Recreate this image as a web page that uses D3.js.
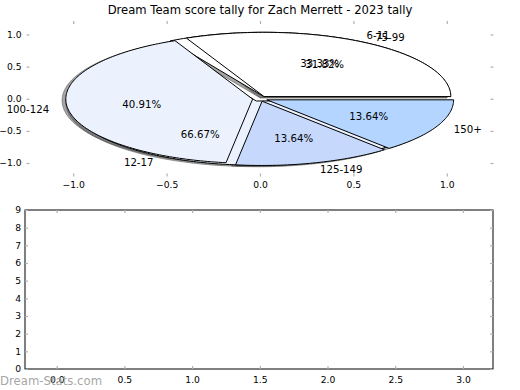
<!DOCTYPE html>
<html>
<head>
<meta charset="utf-8">
<script src="https://cdn.jsdelivr.net/npm/d3@7"></script>
<style>
  body { margin: 0; background: #fff; }
  text { font-family: "DejaVu Sans", sans-serif; fill: #000; }
</style>
</head>
<body>
<svg id="chart" width="520" height="390"></svg>
<script>
// score ranges (front pie) and goal ranges (back pie)
const scoreLabels = ["75-99", "100-124", "125-149", "150+"];
const scoreCounts = [7, 9, 3, 3];
const scoreColors = ["#ffffff", "#ebf2fe", "#c6d9fd", "#b3d5ff"];

const goalLabels = ["6-11", "12-17"];
const goalCounts = [1, 2];
const goalColors = ["#ffffff", "#ebf2fe"];

const pieTicks = [-1.0, -0.5, 0.0, 0.5, 1.0];
const lowerXTicks = [0.0, 0.5, 1.0, 1.5, 2.0, 2.5, 3.0];
const lowerYTicks = [0, 1, 2, 3, 4, 5, 6, 7, 8, 9];

const title = "Dream Team score tally for Zach Merrett - 2023 tally";
const explode = 0.04;

const svg = d3.select("#chart");

// top axes (pie) - aspect not equal so the pie is squashed
let x = d3.scaleLinear().domain([-1.25, 1.25]).range([26.5, 493.5]);
let y = d3.scaleLinear().domain([-1.21, 1.21]).range([176.5, 21]);

// bottom axes (empty)
let x2 = d3.scaleLinear().domain([-0.234, 3.222]).range([25, 493]);
let y2 = d3.scaleLinear().domain([0, 9]).range([369, 210]);

const tickColor = "#b0b0b0";
const fmt1 = d => d3.format(".1f")(d).replace("-", "\u2212");

function ticks(g, scale, orient, vals, labels, pad) {
  let ax = orient(scale).tickValues(vals).tickSizeInner(-3).tickSizeOuter(0)
    .tickPadding(pad).tickFormat(labels ? labels : "");
  g.call(ax);
  g.select(".domain").remove();
  g.selectAll(".tick line").attr("stroke", tickColor).attr("stroke-width", 1.2);
  g.selectAll(".tick text").attr("font-size", "9.2px").attr("fill", "#000")
    .attr("font-family", "DejaVu Sans, sans-serif");
}

// ---- top axes ticks
ticks(svg.append("g").attr("transform", "translate(0," + y.range()[0] + ")"), x, d3.axisBottom, pieTicks, fmt1, 5);
ticks(svg.append("g").attr("transform", "translate(0," + y.range()[1] + ")"), x, d3.axisTop, pieTicks, null, 4);
ticks(svg.append("g").attr("transform", "translate(" + x.range()[0] + ",0)"), y, d3.axisLeft, pieTicks, fmt1, 5);
ticks(svg.append("g").attr("transform", "translate(" + x.range()[1] + ",0)"), y, d3.axisRight, pieTicks, null, 4);

// ---- pies
const pie = d3.pie().sort(null);

const wedgeLine = d3.line().x(p => x(p[0])).y(p => y(p[1]));

function wedgePoints(a0, a1, cx, cy) {
  let pts = [[cx, cy]];
  let n = Math.max(8, Math.ceil((a1 - a0) / 0.02));
  for (let i = 0; i <= n; i++) {
    let a = a0 + (a1 - a0) * i / n;
    pts.push([cx + Math.cos(a), cy + Math.sin(a)]);
  }
  pts.push([cx, cy]);
  return pts;
}

function layoutPie(counts) {
  return pie(counts).map(d => {
    let mid = (d.startAngle + d.endAngle) / 2;
    return {
      value: d.value,
      a0: d.startAngle, a1: d.endAngle, mid: mid,
      cx: explode * Math.cos(mid), cy: explode * Math.sin(mid),
      pct: d.value / d3.sum(counts) * 100
    };
  });
}

// shadows sit under every wedge, wedges of the score pie on top
const shadowLayer = svg.append("g");
const pieLayer = svg.append("g");
const textLayer = svg.append("g");

function drawPie(counts, labels, colors) {
  let slices = layoutPie(counts);

  // shadow, offset down-left
  shadowLayer.append("g").selectAll("path")
    .data(slices).enter().append("path")
    .attr("d", d => wedgeLine(wedgePoints(d.a0, d.a1, d.cx - 0.02, d.cy - 0.02)))
    .attr("fill", "#4d4d4d").attr("fill-opacity", 0.5)
    .attr("stroke", "#4d4d4d").attr("stroke-opacity", 0.5).attr("stroke-width", 1);

  pieLayer.append("g").selectAll("path")
    .data(slices).enter().append("path")
    .attr("d", d => wedgeLine(wedgePoints(d.a0, d.a1, d.cx, d.cy)))
    .attr("fill", (d, i) => colors[i])
    .attr("stroke", "#000").attr("stroke-width", 1).attr("stroke-linejoin", "miter");

  // range labels
  textLayer.append("g").selectAll("text")
    .data(slices).enter().append("text")
    .attr("x", d => x(d.cx + 1.1 * Math.cos(d.mid)))
    .attr("y", d => y(d.cy + 1.1 * Math.sin(d.mid)))
    .attr("dy", "0.36em")
    .attr("text-anchor", d => (d.cx + 1.1 * Math.cos(d.mid)) > 0 ? "start" : "end")
    .attr("font-size", "10.2px")
    .text((d, i) => labels[i]);

  // percentages
  textLayer.append("g").selectAll("text")
    .data(slices).enter().append("text")
    .attr("x", d => x(d.cx + 0.6 * Math.cos(d.mid)))
    .attr("y", d => y(d.cy + 0.6 * Math.sin(d.mid)))
    .attr("dy", "0.36em")
    .attr("text-anchor", "middle")
    .attr("font-size", "10.2px")
    .text(d => d.pct.toFixed(2) + "%");
}

drawPie(goalCounts, goalLabels, goalColors);
drawPie(scoreCounts, scoreLabels, scoreColors);

// title
svg.append("text")
  .attr("x", 260).attr("y", 10).attr("dy", "0.36em")
  .attr("text-anchor", "middle")
  .attr("font-size", "11.6px")
  .text(title);

// ---- bottom axes
svg.append("rect")
  .attr("x", x2.range()[0]).attr("y", y2.range()[1])
  .attr("width", x2.range()[1] - x2.range()[0])
  .attr("height", y2.range()[0] - y2.range()[1])
  .attr("fill", "none").attr("stroke", "#000").attr("stroke-width", 1);

ticks(svg.append("g").attr("transform", "translate(0," + y2.range()[0] + ")"), x2, d3.axisBottom, lowerXTicks, fmt1, 7);
ticks(svg.append("g").attr("transform", "translate(0," + y2.range()[1] + ")"), x2, d3.axisTop, lowerXTicks, null, 4);
ticks(svg.append("g").attr("transform", "translate(" + x2.range()[0] + ",0)"), y2, d3.axisLeft, lowerYTicks, d => d, 4);
ticks(svg.append("g").attr("transform", "translate(" + x2.range()[1] + ",0)"), y2, d3.axisRight, lowerYTicks, null, 4);

// watermark
svg.append("text")
  .attr("x", 0).attr("y", 384.5)
  .attr("font-size", "11.7px")
  .style("fill", "#9a9a9a")
  .attr("fill-opacity", 0.9)
  .text("Dream-Stats.com");
</script>
</body>
</html>
